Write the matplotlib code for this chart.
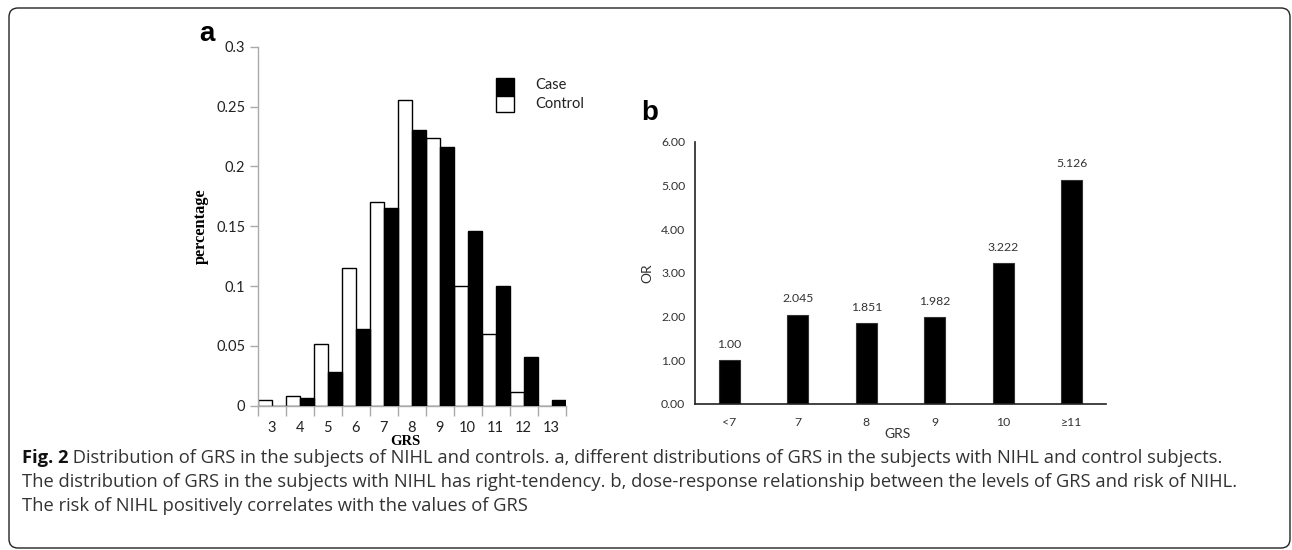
import matplotlib
matplotlib.use("Agg")
import matplotlib.pyplot as plt
import numpy as np
from matplotlib.patches import Rectangle, FancyBboxPatch
from matplotlib.transforms import IdentityTransform

# ---- data ----
grs_a = [3, 4, 5, 6, 7, 8, 9, 10, 11, 12, 13]
control_pct = [0.0045, 0.0084, 0.0515, 0.1148, 0.1705, 0.2552, 0.2237, 0.1000, 0.0602, 0.0111, 0.0]
case_pct = [0.0, 0.0064, 0.0281, 0.0638, 0.1655, 0.2306, 0.2159, 0.1462, 0.0997, 0.0407, 0.0045]
yticks_a = [0, 0.05, 0.1, 0.15, 0.2, 0.25, 0.3]
ytick_labels_a = ["0", "0.05", "0.1", "0.15", "0.2", "0.25", "0.3"]

grs_b = ["<7", "7", "8", "9", "10", "\u226511"]
or_values = [1.00, 2.045, 1.851, 1.982, 3.222, 5.126]
or_labels = ["1.00", "2.045", "1.851", "1.982", "3.222", "5.126"]
yticks_b = [0, 1, 2, 3, 4, 5, 6]

caption_bold = "Fig. 2"
caption_lines = [
    " Distribution of GRS in the subjects of NIHL and controls. a, different distributions of GRS in the subjects with NIHL and control subjects.",
    "The distribution of GRS in the subjects with NIHL has right-tendency. b, dose-response relationship between the levels of GRS and risk of NIHL.",
    "The risk of NIHL positively correlates with the values of GRS",
]

W, H = 1292, 550
fig = plt.figure(figsize=(W / 100, H / 100), dpi=100)
SANS = ["Lato", "DejaVu Sans"]
SERIF = ["Liberation Serif", "DejaVu Serif"]

def ax_rect(l, t, r, b):
    return [l / W, 1 - b / H, (r - l) / W, (b - t) / H]

# ---- panel a ----
axa = fig.add_axes(ax_rect(257.7, 46.7, 565.7, 405.7))
x = np.array(grs_a, dtype=float)
axa.bar(x - 0.25, control_pct, width=0.5, color="white", edgecolor="black", linewidth=1.0, zorder=2)
axa.bar(x + 0.25, case_pct, width=0.5, color="black", edgecolor="black", linewidth=1.0, zorder=3)
axa.set_xlim(2.5, 13.5)
axa.set_ylim(0, 0.3)
axa.set_xticks(np.arange(2.5, 13.6, 1.0))
axa.set_xticklabels([])
axa.set_xticks(x, minor=True)
axa.set_xticklabels([str(v) for v in grs_a], minor=True, fontsize=10.5, family=SANS, color="#222222")
axa.tick_params(axis="x", which="major", length=7, width=1, color="#aaaaaa", direction="out")
axa.tick_params(axis="x", which="minor", length=0, pad=11)
axa.set_yticks(yticks_a)
axa.set_yticklabels(ytick_labels_a, fontsize=10.5, family=SANS, color="#222222")
axa.tick_params(axis="y", length=6, width=1, color="#aaaaaa", direction="out", pad=3)
for s in ["top", "right"]:
    axa.spines[s].set_visible(False)
for s in ["left", "bottom"]:
    axa.spines[s].set_color("#aaaaaa")
    axa.spines[s].set_linewidth(1.0)
axa.set_ylabel("percentage", family=SERIF, fontweight="bold", fontsize=11.8)
axa.yaxis.set_label_coords(-0.158, 0.5)
axa.set_xlabel("GRS", family=SERIF, fontweight="bold", fontsize=10.5, va="center")
axa.xaxis.set_label_coords(0.478, -0.1)

# legend (manual)
def px2axa(px, py):
    return ((px - 257.7) / 308.0, (405.7 - py) / 359.0)
lx0, ly0 = px2axa(496, 95.7)
lx1, ly1 = px2axa(514, 77.7)
axa.add_patch(Rectangle((lx0, ly0), lx1 - lx0, ly1 - ly0, transform=axa.transAxes,
                        facecolor="black", edgecolor="black", lw=1, clip_on=False))
cx0, cy0 = px2axa(496, 111.7)
axa.add_patch(Rectangle((cx0, cy0), lx1 - lx0, ly0 - cy0, transform=axa.transAxes,
                        facecolor="white", edgecolor="black", lw=1, clip_on=False))
tx, ty = px2axa(535, 85)
axa.text(tx, ty, "Case", transform=axa.transAxes, fontsize=10.5, family=SANS, va="center", ha="left", color="#222222")
tx, ty = px2axa(535, 104)
axa.text(tx, ty, "Control", transform=axa.transAxes, fontsize=10.5, family=SANS, va="center", ha="left", color="#222222")

fig.text(199 / W, 1 - 34 / H, "a", fontsize=20, fontweight="bold", family=["Liberation Sans"], va="center", ha="left")

# ---- panel b ----
axb = fig.add_axes(ax_rect(695, 141.7, 1106, 404))
xb = np.arange(len(grs_b))
axb.bar(xb, or_values, width=0.31, color="black", edgecolor="#333333", linewidth=0.8)
for xi, v, lab in zip(xb, or_values, or_labels):
    axb.annotate(lab, (xi, v), xytext=(0, 11.5), textcoords="offset points",
                 ha="center", va="center", fontsize=8.8, family=SANS, color="#333333")
axb.set_xlim(-0.5, 5.5)
axb.set_ylim(0, 6)
axb.set_xticks(xb)
axb.set_xticklabels(grs_b, fontsize=8.8, family=SANS, color="#333333")
axb.set_yticks(yticks_b)
axb.set_yticklabels([f"{v:.2f}" for v in yticks_b], fontsize=8.8, family=SANS, color="#333333")
axb.tick_params(axis="both", length=0)
axb.tick_params(axis="x", pad=9)
axb.tick_params(axis="y", pad=7)
for s in ["top", "right"]:
    axb.spines[s].set_visible(False)
for s in ["left", "bottom"]:
    axb.spines[s].set_color("#222222")
    axb.spines[s].set_linewidth(1.2)
axb.set_xlabel("GRS", fontsize=10, family=SANS, color="#333333", va="center")
axb.xaxis.set_label_coords(0.493, -0.115)
axb.set_ylabel("OR", fontsize=10, family=SANS, color="#333333", va="center")
axb.yaxis.set_label_coords(-0.117, 0.5)

fig.text(641 / W, 1 - 113 / H, "b", fontsize=20, fontweight="bold", family=["Liberation Sans"], va="center", ha="left")

# ---- caption ----
CAP = ["Open Sans", "DejaVu Sans"]
CS = 13.2
t0 = fig.text(22 / W, 1 - 458 / H, caption_bold, fontsize=CS, fontweight="bold", family=CAP, va="center", ha="left", color="#111111")
fig.canvas.draw()
bb = t0.get_window_extent()
fig.text(bb.x1 / W, 1 - 458 / H, caption_lines[0], fontsize=CS, family=CAP, va="center", ha="left", color="#333333")
fig.text(22 / W, 1 - 482 / H, caption_lines[1], fontsize=CS, family=CAP, va="center", ha="left", color="#333333")
fig.text(22 / W, 1 - 506 / H, caption_lines[2], fontsize=CS, family=CAP, va="center", ha="left", color="#333333")

# ---- rounded frame ----
frame = FancyBboxPatch((9, 2), 1281, 540, boxstyle="round,pad=0,rounding_size=9",
                       transform=IdentityTransform(), facecolor="none", edgecolor="#222222", lw=1.0)
fig.patches.append(frame)

fig.savefig("out.png", dpi=100)
